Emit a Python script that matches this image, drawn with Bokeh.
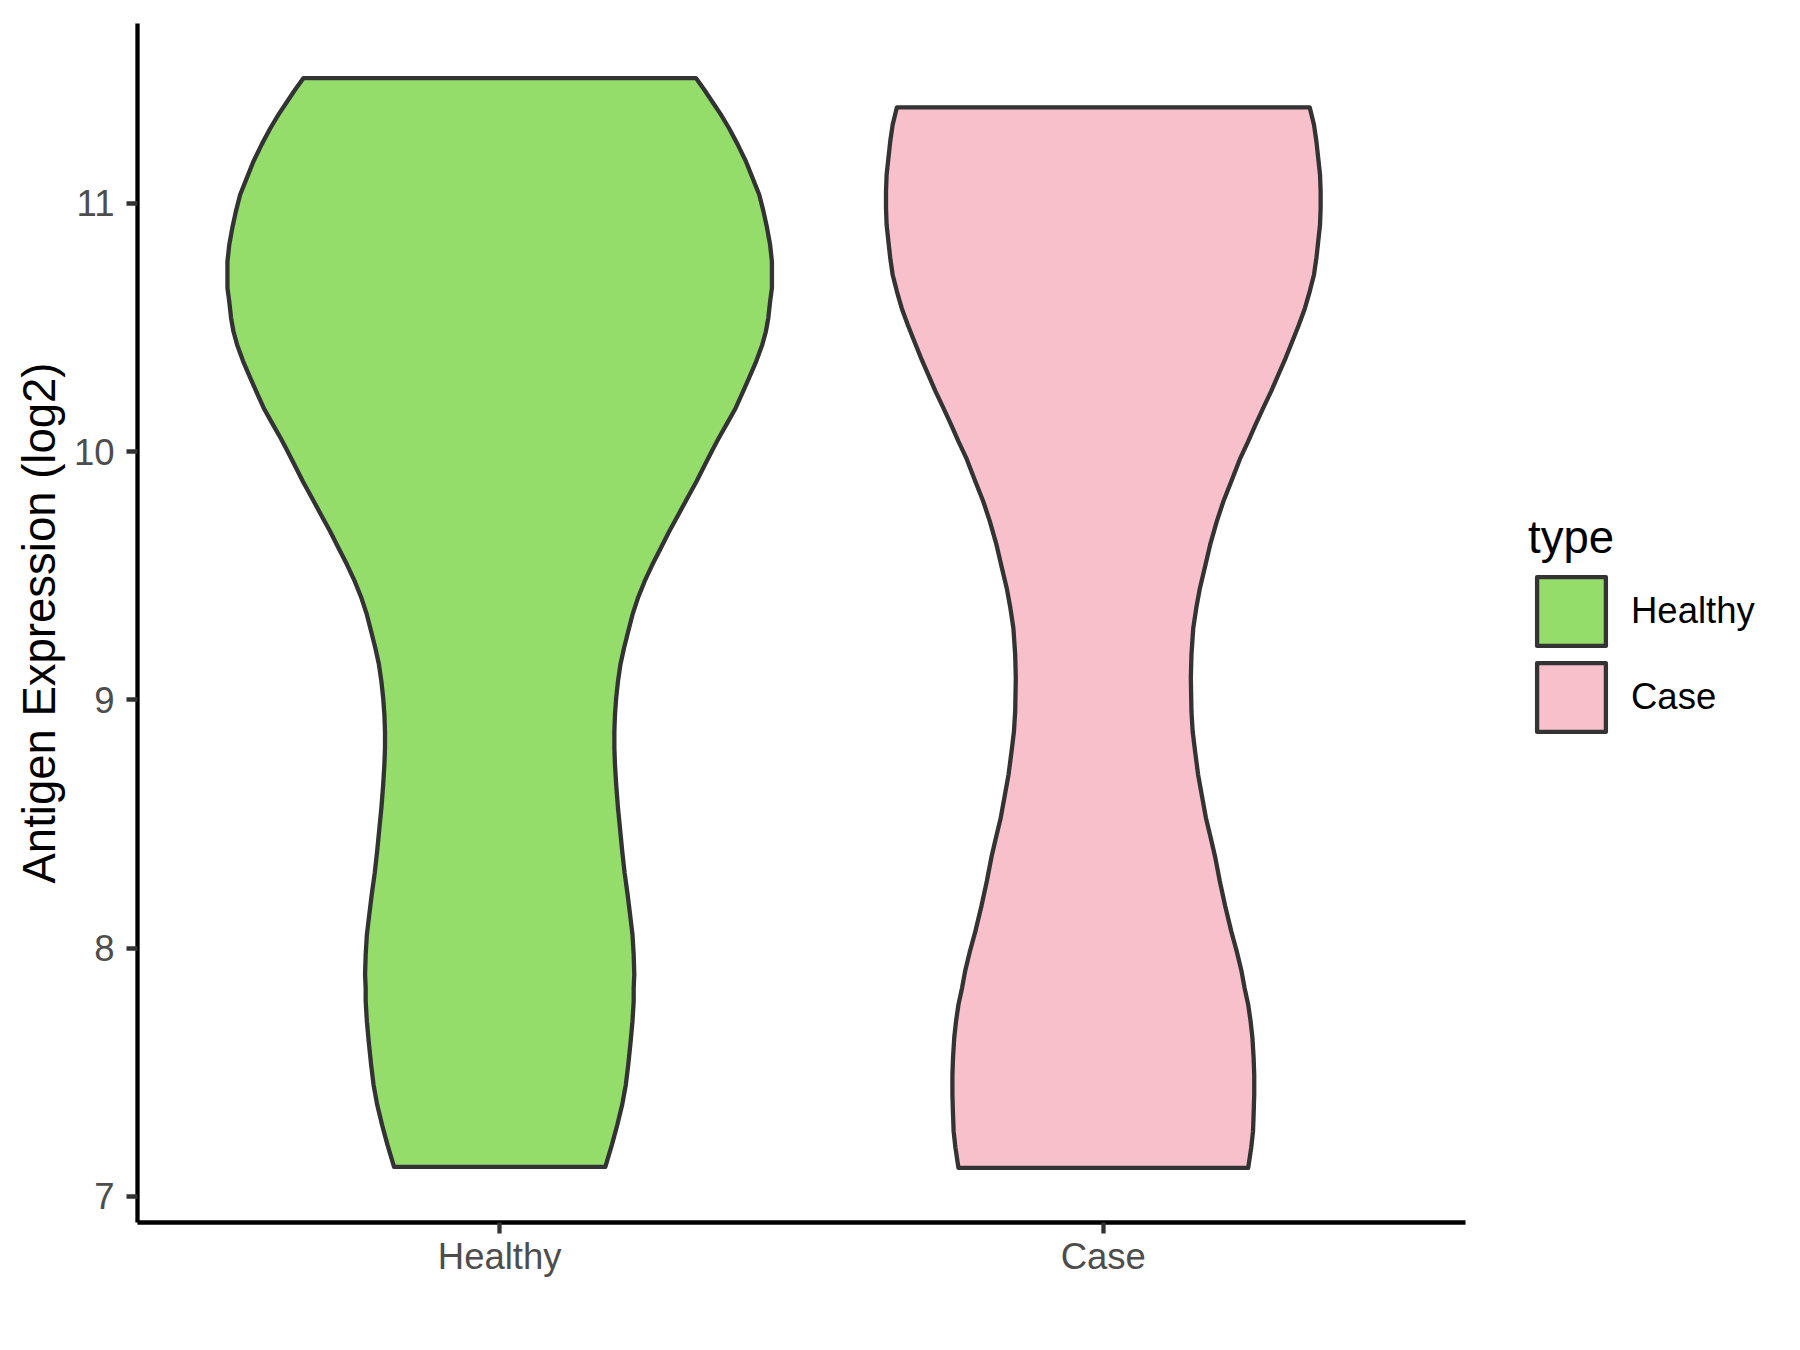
from bokeh.plotting import figure
from bokeh.models import Range1d, FixedTicker, Legend, LegendItem
from bokeh.embed import file_html
from bokeh.resources import INLINE

# ---- data ----
categories = ["Healthy", "Case"]
category_pos = [1, 2]
fill_colors = ["#94DD6B", "#F7C0CB"]

# violin outlines: expression value and half-width (in category units)
healthy_y = [11.505, 11.458, 11.411, 11.360, 11.303, 11.239, 11.169, 11.102, 11.035, 10.968,
             10.901, 10.833, 10.766, 10.713, 10.659, 10.605, 10.538, 10.484, 10.431, 10.364,
             10.296, 10.236, 10.176, 10.115, 10.055, 10.014, 9.947, 9.880, 9.813, 9.746,
             9.679, 9.612, 9.545, 9.477, 9.410, 9.343, 9.276, 9.209, 9.142, 9.075,
             9.007, 8.940, 8.873, 8.806, 8.739, 8.658, 8.564, 8.490, 8.390, 8.302,
             8.215, 8.135, 8.054, 7.973, 7.893, 7.839, 7.786, 7.705, 7.624, 7.530,
             7.450, 7.369, 7.289, 7.208, 7.118]
healthy_hw = [0.325, 0.339, 0.352, 0.366, 0.380, 0.394, 0.408, 0.419, 0.430, 0.437,
              0.443, 0.448, 0.451, 0.451, 0.451, 0.448, 0.445, 0.441, 0.435, 0.425,
              0.413, 0.402, 0.391, 0.377, 0.363, 0.354, 0.340, 0.326, 0.311, 0.296,
              0.281, 0.267, 0.253, 0.240, 0.229, 0.220, 0.213, 0.206, 0.200, 0.196,
              0.193, 0.191, 0.190, 0.190, 0.191, 0.193, 0.196, 0.199, 0.203, 0.207,
              0.212, 0.216, 0.220, 0.222, 0.223, 0.222, 0.222, 0.220, 0.217, 0.213,
              0.209, 0.203, 0.195, 0.186, 0.175]

case_y = [11.387, 11.317, 11.250, 11.183, 11.116, 11.048, 10.981, 10.914, 10.847, 10.780,
          10.713, 10.646, 10.578, 10.511, 10.444, 10.377, 10.310, 10.243, 10.176, 10.108,
          10.041, 9.974, 9.880, 9.800, 9.719, 9.625, 9.531, 9.450, 9.370, 9.289,
          9.182, 9.088, 8.954, 8.873, 8.793, 8.699, 8.618, 8.524, 8.443, 8.370,
          8.269, 8.168, 8.067, 7.987, 7.906, 7.839, 7.772, 7.705, 7.638, 7.557,
          7.490, 7.410, 7.329, 7.262, 7.195, 7.114]
case_hw = [0.342, 0.349, 0.353, 0.356, 0.359, 0.360, 0.360, 0.359, 0.356, 0.353,
           0.349, 0.342, 0.334, 0.324, 0.313, 0.302, 0.290, 0.278, 0.265, 0.252,
           0.240, 0.227, 0.212, 0.199, 0.188, 0.177, 0.168, 0.160, 0.154, 0.149,
           0.146, 0.145, 0.146, 0.148, 0.152, 0.157, 0.163, 0.170, 0.178, 0.185,
           0.193, 0.202, 0.212, 0.221, 0.229, 0.234, 0.240, 0.244, 0.247, 0.249,
           0.250, 0.250, 0.249, 0.248, 0.245, 0.240]

y_ticks = [7, 8, 9, 10, 11]
y_title = "Antigen Expression (log2)"
legend_title = "type"

FONT = "Liberation Sans"
LW = 4.3

p = figure(frame_width=1328, frame_height=1199,
           x_range=Range1d(0.4, 2.6), y_range=Range1d(6.894, 11.725),
           output_backend="svg", toolbar_location=None,
           min_border_left=137, min_border_right=319,
           min_border_top=23, min_border_bottom=112,
           background_fill_color="white", border_fill_color="white")
p.outline_line_color = None
p.xgrid.visible = False
p.ygrid.visible = False


def violin_outline(center, ys, hws):
    n = min(len(ys), len(hws))
    ys, hws = ys[:n], hws[:n]
    xs = [center - h for h in hws] + [center + h for h in reversed(hws)]
    yy = list(ys) + list(reversed(ys))
    return xs, yy


renderers = []
for pos, ys, hws, col in [(category_pos[0], healthy_y, healthy_hw, fill_colors[0]),
                          (category_pos[1], case_y, case_hw, fill_colors[1])]:
    xs, yy = violin_outline(pos, ys, hws)
    r = p.patch(xs, yy, fill_color=col, line_color="#333333", line_width=LW,
                line_join="round")
    renderers.append(r)

# axes
for ax in (p.xaxis[0], p.yaxis[0]):
    ax.axis_line_color = "black"
    ax.axis_line_width = LW
    ax.major_tick_line_color = "#333333"
    ax.major_tick_line_width = LW
    ax.major_tick_out = 11
    ax.major_tick_in = 0
    ax.minor_tick_line_color = None
    ax.major_label_text_font = FONT
    ax.major_label_text_font_size = "36.5px"
    ax.major_label_text_color = "#4D4D4D"

p.xaxis.ticker = FixedTicker(ticks=category_pos)
p.xaxis.major_label_overrides = {pos: lab for pos, lab in zip(category_pos, categories)}
p.xaxis.major_label_standoff = 2

p.yaxis.ticker = FixedTicker(ticks=y_ticks)
p.yaxis.major_label_standoff = 12
p.yaxis.axis_label = y_title
p.yaxis.axis_label_text_font = FONT
p.yaxis.axis_label_text_font_size = "45.5px"
p.yaxis.axis_label_text_font_style = "normal"
p.yaxis.axis_label_text_color = "black"
p.yaxis.axis_label_standoff = 6

legend = Legend(
    items=[LegendItem(label=categories[i], renderers=[renderers[i]]) for i in range(2)],
    title=legend_title,
    title_text_font=FONT, title_text_font_size="45.5px", title_text_font_style="normal",
    title_text_color="black", title_standoff=4,
    location=(63, 482),
    orientation="vertical",
    glyph_width=86, glyph_height=86,
    spacing=0, padding=0, margin=0,
    label_standoff=17,
    label_text_font=FONT, label_text_font_size="36.5px", label_text_color="black",
    border_line_color=None, background_fill_color=None,
)
p.add_layout(legend, "right")

open("out.html", "w").write(file_html(p, INLINE))
